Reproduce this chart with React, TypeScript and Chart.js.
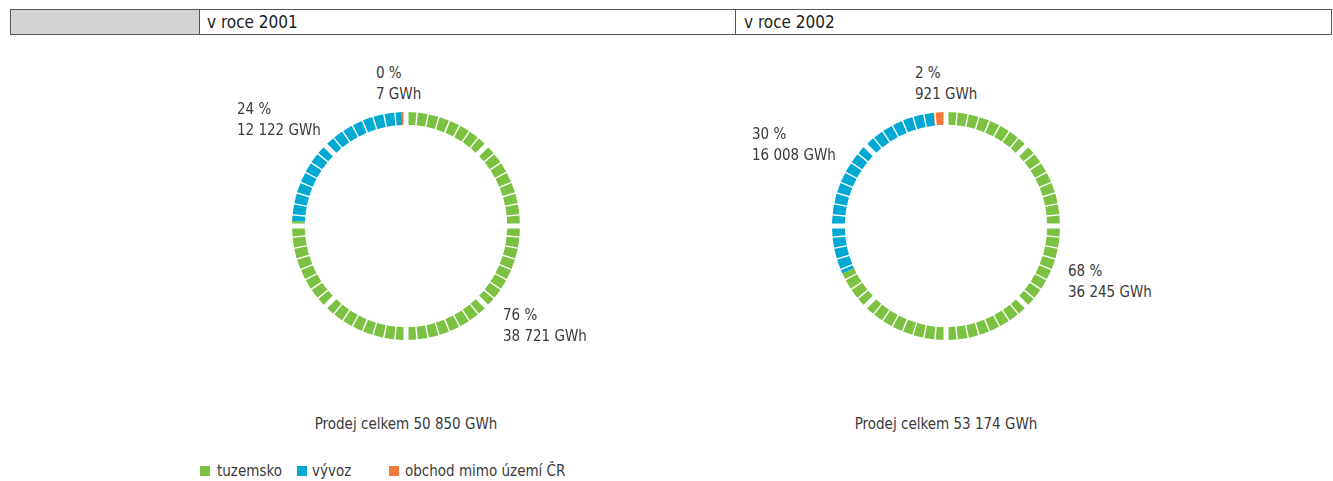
import React, { useEffect, useRef } from "react";
import { Chart, registerables } from "chart.js";

Chart.register(...registerables);

const categories = ["tuzemsko", "vývoz", "obchod mimo území ČR"];
const colors = ["#7cc242", "#00a9d4", "#f47a3c"];
const years = ["v roce 2001", "v roce 2002"];
const values2001 = [38721, 12122, 7];
const values2002 = [36245, 16008, 921];
const percents2001 = [76, 24, 0];
const percents2002 = [68, 30, 2];
const totals = [50850, 53174];

const FONT = "'Liberation Sans Narrow', 'DejaVu Sans Condensed', 'Arial Narrow', sans-serif";
const TEXT = "#3a3a3a";

const fmt = (n: number) => String(n).replace(/\B(?=(\d{3})+(?!\d))/g, " ");

const gapPlugin = {
  id: "segmentGaps",
  afterDatasetsDraw(chart: any) {
    const meta = chart.getDatasetMeta(0);
    const arc = meta.data[0];
    if (!arc) return;
    const { x, y, innerRadius, outerRadius } = arc.getProps(["x", "y", "innerRadius", "outerRadius"], true);
    const ctx = chart.ctx;
    ctx.save();
    ctx.strokeStyle = "#ffffff";
    const n = 64;
    for (let k = 0; k < n; k++) {
      const a = -Math.PI / 2 + (k * 2 * Math.PI) / n;
      ctx.lineWidth = k % 8 === 0 ? 5 : 1.4;
      ctx.beginPath();
      ctx.moveTo(x + Math.cos(a) * (innerRadius - 2), y + Math.sin(a) * (innerRadius - 2));
      ctx.lineTo(x + Math.cos(a) * (outerRadius + 2), y + Math.sin(a) * (outerRadius + 2));
      ctx.stroke();
    }
    ctx.restore();
  },
};

function Ring({ values, left, top }: { values: number[]; left: number; top: number }) {
  const ref = useRef<HTMLCanvasElement | null>(null);
  useEffect(() => {
    if (!ref.current) return;
    const total = values.reduce((a, b) => a + b, 0);
    const shown = values.map((v) => Math.max(v, total * 0.006));
    const chart = new Chart(ref.current, {
      type: "doughnut",
      data: {
        labels: categories,
        datasets: [
          {
            data: shown,
            backgroundColor: colors,
            borderWidth: 0,
          },
        ],
      },
      options: {
        responsive: false,
        animation: false,
        events: [],
        radius: 114,
        cutout: 106.5,
        plugins: { legend: { display: false }, tooltip: { enabled: false } },
      } as any,
      plugins: [gapPlugin],
    });
    return () => chart.destroy();
  }, []);
  return (
    <canvas
      ref={ref}
      width={240}
      height={240}
      style={{ position: "absolute", left, top, width: 240, height: 240 }}
    />
  );
}

function Label({ x, y, lines, center }: { x: number; y: number; lines: string[]; center?: boolean }) {
  return (
    <div
      style={{
        position: "absolute",
        left: center ? x - 200 : x,
        top: y,
        width: center ? 400 : undefined,
        textAlign: center ? "center" : "left",
        fontFamily: FONT,
        fontSize: 15,
        lineHeight: "20.5px",
        color: TEXT,
        whiteSpace: "nowrap",
      }}
    >
      {lines.map((l, i) => (
        <div key={i}>{l}</div>
      ))}
    </div>
  );
}

export default function App() {
  const legendX = [200, 297, 389];
  const legendTextX = [217, 312, 405];
  return (
    <div style={{ position: "absolute", left: 0, top: 0, width: 1333, height: 481, background: "#fff", overflow: "hidden" }}>
      {/* header */}
      <div style={{ position: "absolute", left: 10, top: 9, width: 1322, height: 26, border: "1px solid #555", boxSizing: "border-box" }} />
      <div style={{ position: "absolute", left: 11, top: 10, width: 188, height: 24, background: "#d4d4d4" }} />
      <div style={{ position: "absolute", left: 199, top: 9, width: 1, height: 26, background: "#555" }} />
      <div style={{ position: "absolute", left: 735, top: 9, width: 1, height: 26, background: "#555" }} />
      <div style={{ position: "absolute", left: 207, top: 11, fontFamily: FONT, fontSize: 17, lineHeight: "23px", color: "#222" }}>{years[0]}</div>
      <div style={{ position: "absolute", left: 744, top: 11, fontFamily: FONT, fontSize: 17, lineHeight: "23px", color: "#222" }}>{years[1]}</div>

      <Ring values={values2001} left={286} top={106} />
      <Ring values={values2002} left={826} top={106} />

      <Label x={376} y={63} lines={[`${percents2001[2]} %`, `${fmt(values2001[2])} GWh`]} />
      <Label x={237} y={99} lines={[`${percents2001[1]} %`, `${fmt(values2001[1])} GWh`]} />
      <Label x={503} y={305} lines={[`${percents2001[0]} %`, `${fmt(values2001[0])} GWh`]} />
      <Label x={406} y={414} center lines={[`Prodej celkem ${fmt(totals[0])} GWh`]} />

      <Label x={915} y={63} lines={[`${percents2002[2]} %`, `${fmt(values2002[2])} GWh`]} />
      <Label x={752} y={124} lines={[`${percents2002[1]} %`, `${fmt(values2002[1])} GWh`]} />
      <Label x={1068} y={261} lines={[`${percents2002[0]} %`, `${fmt(values2002[0])} GWh`]} />
      <Label x={946} y={414} center lines={[`Prodej celkem ${fmt(totals[1])} GWh`]} />

      {categories.map((c, i) => (
        <React.Fragment key={c}>
          <div style={{ position: "absolute", left: legendX[i], top: 466, width: 10, height: 10, background: colors[i] }} />
          <div style={{ position: "absolute", left: legendTextX[i], top: 461, fontFamily: FONT, fontSize: 15, lineHeight: "20.5px", color: TEXT, whiteSpace: "nowrap" }}>{c}</div>
        </React.Fragment>
      ))}
    </div>
  );
}
